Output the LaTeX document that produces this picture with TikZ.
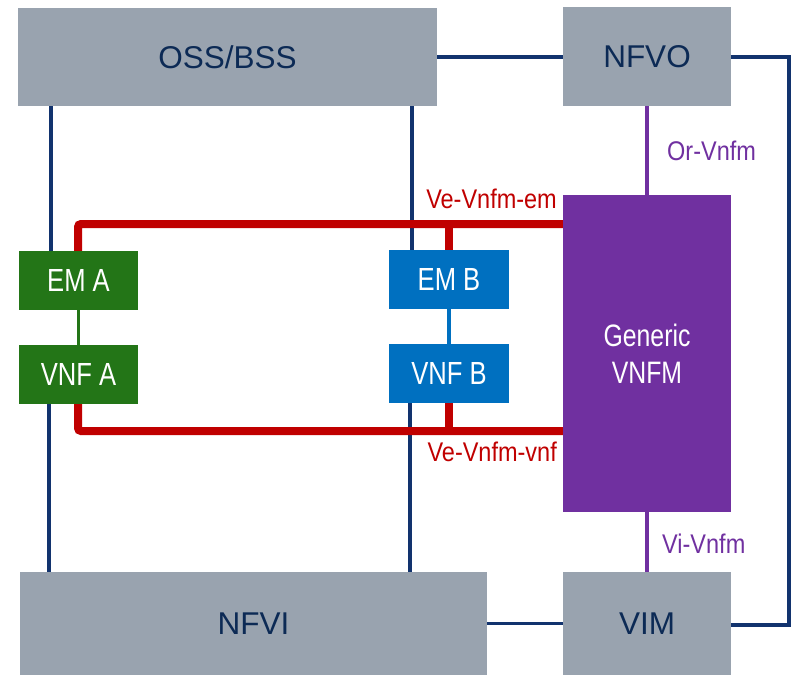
\documentclass[tikz,border=0pt]{standalone}
\usepackage{fontspec}
\setmainfont{Liberation Sans}
\newfontfamily\boxfont[FakeStretch=0.8]{Liberation Sans}
\newfontfamily\lblfont[FakeStretch=0.87]{Liberation Sans}
\definecolor{grayc}{HTML}{99A3AF}
\definecolor{navytext}{HTML}{0C2A55}
\definecolor{navyline}{HTML}{12336E}
\definecolor{greenc}{HTML}{237517}
\definecolor{bluec}{HTML}{0070C0}
\definecolor{purplec}{HTML}{7030A0}
\definecolor{redc}{HTML}{C00000}
\begin{document}
\begin{tikzpicture}[x=1pt,y=-1pt,
  graybox/.style={fill=grayc, draw=none, text=navytext, inner sep=0pt, font=\fontsize{31.5}{37}\selectfont},
  greenbox/.style={fill=greenc, draw=none, text=white, inner sep=0pt, minimum width=119pt, minimum height=59pt, font=\boxfont\fontsize{32}{38}\selectfont},
  bluebox/.style={fill=bluec, draw=none, text=white, inner sep=0pt, minimum width=120pt, minimum height=59pt, font=\boxfont\fontsize{32}{38}\selectfont},
  purplebox/.style={fill=purplec, draw=none, text=white, inner sep=0pt, align=center, font=\boxfont\fontsize{31}{37}\selectfont},
  navyconn/.style={draw=navyline, line width=3.3pt},
  purpleconn/.style={draw=purplec, line width=3.3pt},
  redconn/.style={draw=redc, line width=8pt, rounded corners=3pt},
  lbl/.style={inner sep=0pt, font=\lblfont\fontsize{27}{32}\selectfont}
]
\useasboundingbox (0,0) rectangle (792,675);

% boxes
\node[graybox, minimum width=419pt, minimum height=98pt] (oss) at (227.5,57) {OSS/BSS};
\node[graybox, minimum width=168pt, minimum height=99pt] (nfvo) at (647,56.5) {NFVO};
\node[graybox, minimum width=467pt, minimum height=103pt] (nfvi) at (253.5,623.5) {NFVI};
\node[graybox, minimum width=168pt, minimum height=103pt] (vim) at (647,623.5) {VIM};
\node[purplebox, minimum width=168pt, minimum height=317pt] (vnfm) at (647,353.5) {Generic\\VNFM};
\node[greenbox] (ema) at (78.5,280.5) {EM A};
\node[greenbox] (vnfa) at (78.5,374.5) {VNF A};
\node[bluebox] (emb) at (449,279.5) {EM B};
\node[bluebox] (vnfb) at (449,373.5) {VNF B};

% navy connectors
\draw[navyconn] (oss.east) -- (oss.east -| nfvo.west);
\draw[navyconn] (nfvi.east |- vim.west) -- (vim.west);
\coordinate (nr1) at (789,57);
\coordinate (nr2) at (789,625);
\draw[navyconn] (nfvo.east |- nr1) -- (nr1) -- (nr2) -- (vim.east |- nr2);
\draw[navyconn] (oss.south -| 51,0) -- (ema.north -| 51,0);
\draw[navyconn] (vnfa.south -| 49,0) -- (nfvi.north -| 49,0);
\draw[navyconn] (oss.south -| 412,0) -- (emb.north -| 412,0);
\draw[navyconn] (vnfb.south -| 410,0) -- (nfvi.north -| 410,0);

% purple connectors
\draw[purpleconn] (nfvo.south) -- (vnfm.north);
\draw[purpleconn] (vnfm.south) -- (vim.north);

% EM-VNF links
\draw[draw=greenc, line width=3.3pt] (ema.south) -- (vnfa.north);
\draw[draw=bluec, line width=3.3pt] (emb.south) -- (vnfb.north);

% red connectors
\coordinate (rtl) at (78,224);
\coordinate (rbl) at (78,431);
\coordinate (rtm) at (449,224);
\coordinate (rbm) at (449,431);
\draw[redconn] (vnfm.west |- rtl) -- (rtl) -- (ema.north -| rtl);
\draw[redconn] (vnfa.south -| rbl) -- (rbl) -- (vnfm.west |- rbl);
\draw[redconn] (rtm) -- (emb.north);
\draw[redconn] (vnfb.south) -- (rbm);

% labels
\node[lbl, text=redc, anchor=base east] (lvem) at (557,208) {Ve-Vnfm-em};
\node[lbl, text=redc, anchor=base east] (lvvnf) at (557,461) {Ve-Vnfm-vnf};
\node[lbl, text=purplec, anchor=base west] (lor) at (667,160) {Or-Vnfm};
\node[lbl, text=purplec, anchor=base west] (lvi) at (662,553) {Vi-Vnfm};
\end{tikzpicture}
\end{document}
